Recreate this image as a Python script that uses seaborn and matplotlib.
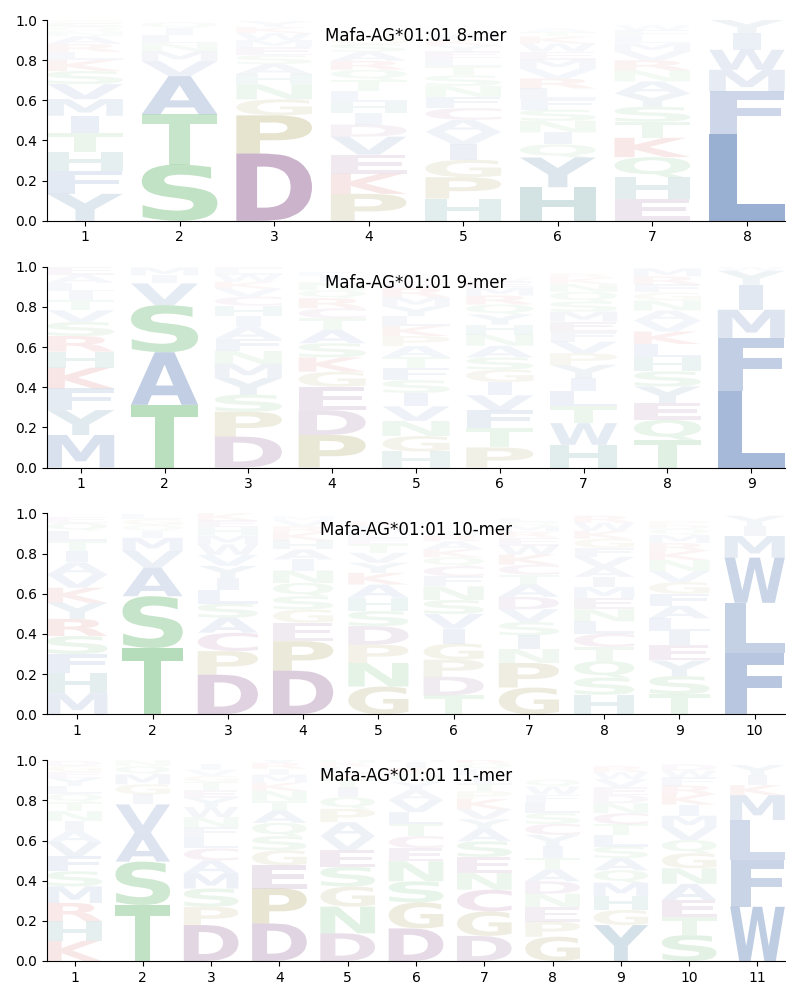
import matplotlib
matplotlib.use("Agg")
import matplotlib.pyplot as plt
import seaborn as sns
from matplotlib.textpath import TextPath
from matplotlib.patches import PathPatch
from matplotlib.font_manager import FontProperties
import matplotlib.transforms as mtrans

# ---------------- data (letter, probability) per position ----------------
TITLES = ["Mafa-AG*01:01 8-mer", "Mafa-AG*01:01 9-mer",
          "Mafa-AG*01:01 10-mer", "Mafa-AG*01:01 11-mer"]

mer8 = [
    [("Y", .134), ("F", .115), ("H", .096), ("T", .09), ("I", .088), ("M", .083), ("V", .075),
     ("S", .065), ("K", .055), ("L", .04), ("R", .04), ("A", .038), ("N", .025), ("Q", .02),
     ("E", .02), ("G", .015), ("W", .012)],
    [("S", .28), ("T", .25), ("A", .19), ("V", .075), ("M", .05), ("N", .04), ("L", .04),
     ("I", .035), ("Q", .03)],
    [("D", .335), ("P", .19), ("G", .08), ("N", .075), ("H", .05), ("A", .05), ("S", .045),
     ("E", .04), ("M", .035), ("W", .035), ("K", .03), ("Y", .03)],
    [("P", .134), ("K", .1), ("E", .095), ("V", .09), ("D", .06), ("I", .058), ("H", .056),
     ("L", .055), ("T", .054), ("Q", .05), ("R", .045), ("A", .044), ("S", .04), ("G", .03),
     ("N", .02), ("F", .02)],
    [("H", .11), ("P", .107), ("G", .087), ("I", .077), ("V", .062), ("A", .06), ("C", .058),
     ("F", .056), ("N", .055), ("S", .052), ("T", .045), ("L", .04), ("E", .035), ("Y", .03),
     ("K", .03), ("W", .03)],
    [("H", .167), ("Y", .148), ("Q", .065), ("I", .06), ("N", .058), ("S", .056), ("F", .055),
     ("L", .05), ("R", .05), ("V", .048), ("M", .046), ("E", .04), ("W", .04), ("K", .035),
     ("T", .02), ("A", .02)],
    [("E", .11), ("H", .107), ("Q", .1), ("K", .096), ("T", .08), ("S", .075), ("Y", .066),
     ("A", .06), ("N", .055), ("R", .05), ("V", .045), ("M", .04), ("L", .035), ("F", .03),
     ("W", .025)],
    [("L", .43), ("F", .215), ("M", .107), ("W", .1), ("I", .083), ("Y", .066)],
]

mer9 = [
    [("M", .162), ("Y", .124), ("F", .108), ("K", .103), ("H", .08), ("R", .078), ("S", .07),
     ("V", .058), ("T", .05), ("I", .045), ("L", .042), ("A", .04), ("E", .04)],
    [("T", .312), ("A", .262), ("S", .235), ("V", .108), ("I", .04), ("M", .04)],
    [("D", .154), ("P", .124), ("S", .085), ("Y", .083), ("M", .07), ("N", .065), ("F", .06),
     ("A", .058), ("I", .055), ("H", .052), ("C", .045), ("V", .04), ("K", .035), ("W", .035),
     ("L", .03), ("E", .03)],
    [("P", .162), ("D", .124), ("E", .116), ("G", .075), ("K", .072), ("S", .07), ("A", .066),
     ("T", .058), ("C", .05), ("R", .05), ("Q", .04), ("N", .04), ("I", .03), ("F", .02)],
    [("H", .08), ("G", .077), ("N", .075), ("V", .073), ("I", .066), ("S", .064), ("F", .06),
     ("T", .055), ("A", .055), ("P", .05), ("K", .05), ("L", .05), ("Y", .048), ("M", .045),
     ("R", .045), ("E", .03), ("Q", .02), ("D", .02)],
    [("P", .1), ("T", .095), ("F", .09), ("V", .075), ("I", .066), ("G", .062), ("S", .06),
     ("A", .058), ("N", .056), ("H", .05), ("Y", .05), ("Q", .05), ("R", .045), ("M", .04),
     ("E", .03), ("W", .02)],
    [("H", .113), ("W", .108), ("T", .083), ("L", .075), ("I", .066), ("Y", .066), ("P", .058),
     ("V", .058), ("F", .05), ("E", .05), ("M", .05), ("S", .05), ("Q", .048), ("N", .04),
     ("K", .03), ("R", .02)],
    [("T", .138), ("Q", .1), ("E", .083), ("Y", .083), ("S", .075), ("H", .07), ("L", .066),
     ("K", .062), ("V", .055), ("A", .05), ("N", .05), ("G", .04), ("F", .04), ("R", .04),
     ("M", .04)],
    [("L", .38), ("F", .265), ("M", .141), ("I", .124), ("Y", .07), ("W", .02)],
]

mer10 = [
    [("M", .105), ("H", .1), ("F", .095), ("S", .09), ("R", .085), ("Y", .08), ("K", .075),
     ("V", .066), ("A", .06), ("I", .058), ("T", .05), ("L", .05), ("Q", .04), ("E", .03)],
    [("T", .33), ("S", .258), ("A", .142), ("V", .083), ("M", .066), ("I", .033), ("Q", .03),
     ("G", .03), ("L", .027)],
    [("D", .197), ("P", .117), ("C", .092), ("A", .075), ("S", .07), ("L", .066), ("I", .062),
     ("Y", .06), ("V", .055), ("W", .052), ("M", .045), ("H", .04), ("E", .035), ("K", .035),
     ("F", .03)],
    [("D", .217), ("P", .147), ("E", .092), ("G", .066), ("S", .066), ("Q", .066), ("N", .062),
     ("I", .055), ("A", .05), ("H", .045), ("K", .04), ("R", .03), ("V", .03), ("M", .02)],
    [("G", .138), ("N", .117), ("P", .092), ("D", .092), ("S", .075), ("H", .066), ("A", .066),
     ("K", .058), ("Y", .05), ("V", .05), ("T", .045), ("E", .03), ("L", .03), ("M", .03),
     ("R", .02)],
    [("T", .095), ("D", .092), ("P", .085), ("G", .08), ("I", .075), ("V", .072), ("S", .07),
     ("N", .068), ("F", .05), ("C", .05), ("Q", .045), ("K", .04), ("A", .04), ("R", .03),
     ("W", .02)],
    [("G", .133), ("P", .122), ("N", .07), ("I", .068), ("S", .066), ("V", .064), ("D", .062),
     ("A", .06), ("T", .05), ("C", .05), ("K", .05), ("W", .045), ("E", .04), ("R", .03),
     ("M", .03), ("Q", .02), ("L", .02)],
    [("H", .097), ("S", .085), ("Q", .083), ("T", .07), ("C", .066), ("L", .062), ("N", .06),
     ("E", .056), ("M", .055), ("I", .05), ("A", .05), ("V", .05), ("F", .045), ("G", .045),
     ("K", .04), ("W", .04), ("R", .035)],
    [("T", .1), ("S", .09), ("Y", .078), ("E", .075), ("I", .07), ("L", .065), ("A", .062),
     ("F", .06), ("G", .058), ("V", .055), ("N", .055), ("K", .045), ("R", .04), ("M", .04),
     ("Q", .03), ("D", .02), ("P", .02)],
    [("F", .305), ("L", .25), ("W", .225), ("M", .108), ("I", .05), ("Y", .05)],
]

mer11 = [
    [("K", .1), ("H", .098), ("R", .091), ("M", .083), ("S", .075), ("F", .075), ("V", .07),
     ("A", .055), ("I", .05), ("N", .05), ("T", .045), ("Q", .04), ("L", .04), ("Y", .04),
     ("E", .03), ("G", .03), ("D", .025)],
    [("T", .279), ("S", .216), ("A", .145), ("V", .14), ("I", .05), ("G", .05), ("M", .05),
     ("Q", .04), ("N", .03)],
    [("D", .179), ("P", .091), ("S", .091), ("M", .075), ("A", .065), ("C", .06), ("L", .056),
     ("F", .05), ("N", .05), ("W", .05), ("Y", .045), ("E", .04), ("T", .04), ("G", .03),
     ("V", .03), ("I", .03)],
    [("D", .187), ("P", .174), ("E", .116), ("G", .075), ("S", .07), ("Q", .066), ("A", .06),
     ("T", .05), ("N", .05), ("K", .04), ("M", .04), ("I", .03), ("R", .03), ("V", .03)],
    [("D", .138), ("N", .133), ("G", .1), ("S", .098), ("E", .083), ("P", .066), ("Q", .058),
     ("V", .07), ("A", .07), ("I", .05), ("T", .04), ("K", .03), ("L", .03), ("R", .02),
     ("H", .02)],
    [("D", .162), ("G", .13), ("S", .105), ("N", .1), ("E", .065), ("C", .06), ("T", .06),
     ("L", .06), ("V", .06), ("A", .05), ("Y", .04), ("Q", .04), ("K", .03), ("I", .03),
     ("M", .03), ("F", .02)],
    [("D", .125), ("G", .122), ("C", .108), ("N", .083), ("E", .08), ("S", .078), ("A", .06),
     ("Y", .05), ("V", .05), ("K", .05), ("P", .04), ("T", .04), ("I", .04), ("L", .03),
     ("Q", .03), ("R", .03)],
    [("G", .121), ("P", .075), ("E", .073), ("N", .066), ("D", .062), ("A", .06), ("T", .058),
     ("I", .057), ("Y", .056), ("C", .055), ("S", .054), ("L", .052), ("F", .04), ("W", .04),
     ("Q", .035)],
    [("Y", .179), ("G", .075), ("H", .07), ("M", .066), ("Q", .062), ("A", .06), ("S", .058),
     ("L", .056), ("T", .055), ("C", .055), ("N", .05), ("D", .04), ("E", .04), ("V", .04),
     ("W", .035), ("R", .03)],
    [("S", .129), ("T", .09), ("E", .085), ("A", .08), ("N", .078), ("G", .075), ("Q", .066),
     ("V", .063), ("M", .058), ("I", .055), ("K", .05), ("R", .045), ("F", .04), ("W", .035),
     ("D", .03)],
    [("W", .27), ("F", .232), ("L", .2), ("M", .124), ("K", .05), ("I", .05), ("Y", .05)],
]

PANELS = [mer8, mer9, mer10, mer11]

# ---------------- style ----------------
BLUE, GREEN, OLIVE, PURPLE, RED, TEAL, YCOL, PINK = (
    "#4C72B0", "#55B060", "#9A9040", "#865188", "#D04848", "#368181", "#4A7F9F", "#A0508A")
COLORS = {}
for a in "LFWMIVA":
    COLORS[a] = BLUE
for a in "STNQ":
    COLORS[a] = GREEN
for a in "PG":
    COLORS[a] = OLIVE
for a in "DE":
    COLORS[a] = PURPLE
for a in "KR":
    COLORS[a] = RED
COLORS["H"] = TEAL
COLORS["Y"] = YCOL
COLORS["C"] = PINK

sns.set_style("ticks", {"axes.edgecolor": "black", "text.color": "black",
                        "xtick.color": "black", "ytick.color": "black",
                        "axes.labelcolor": "black"})
plt.rcParams["font.family"] = ["DejaVu Sans"]

FP = FontProperties(family="DejaVu Sans", weight="bold")
E_BB = TextPath((0, 0), "E", size=1, prop=FP).get_extents()
WIDTH = 0.8


def draw_letter(ax, ch, x, y0, h, color, alpha):
    tp = TextPath((0, 0), ch, size=1, prop=FP)
    bb = tp.get_extents()
    sx = min(WIDTH / bb.width, WIDTH / E_BB.width)
    sy = h / bb.height
    w = bb.width * sx
    t = (mtrans.Affine2D().translate(-bb.x0, -bb.y0).scale(sx, sy)
         .translate(x - w / 2, y0))
    ax.add_patch(PathPatch(t.transform_path(tp), facecolor=color,
                           edgecolor="none", alpha=alpha, lw=0))


fig, axes = plt.subplots(4, 1, figsize=(8, 10), dpi=100)
fig.subplots_adjust(left=0.059, right=0.981, top=0.98, bottom=0.039, hspace=0.229)

for ax, data, title in zip(axes, PANELS, TITLES):
    n = len(data)
    for i, col in enumerate(data):
        pos = i + 1
        y = 0.0
        for ch, h in sorted(col, key=lambda t: -t[1]):
            draw_letter(ax, ch, pos, y, h, COLORS[ch], min(1.0, 1.3 * h))
            y += h
    ax.set_xlim(0.6, n + 0.4)
    ax.set_ylim(0, 1)
    ax.set_xticks(range(1, n + 1))
    ax.set_yticks([0, 0.2, 0.4, 0.6, 0.8, 1.0])
    ax.text(0.5, 0.92, title, transform=ax.transAxes, ha="center", va="center",
            fontsize=12, color="black")
    sns.despine(ax=ax)

fig.savefig("out.png", dpi=100)
